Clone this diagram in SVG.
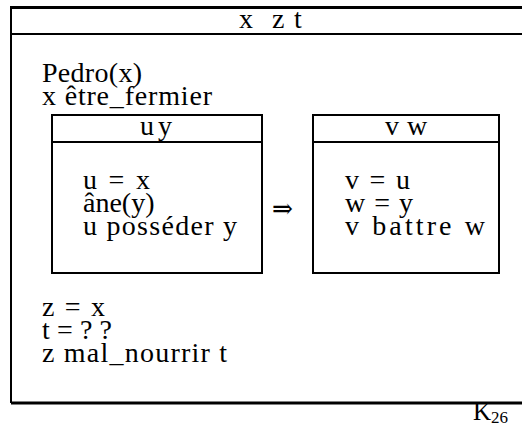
<svg xmlns="http://www.w3.org/2000/svg" width="522" height="427" viewBox="0 0 522 427">
<style>
text{font-family:"Liberation Serif","DejaVu Serif",serif;font-size:28px;fill:#000}
.ln{stroke:#000;fill:none}
.thick{stroke-width:3}
.med{stroke-width:2}
.sub{font-size:17px}
.k{font-size:25px}
</style>
<rect width="522" height="427" fill="#fff"/>
<g id="drs-main">
  <line class="ln thick" x1="11" y1="7.5" x2="522" y2="7.5"/>
  <line class="ln med" x1="11" y1="6" x2="11" y2="403"/>
  <line class="ln med" x1="11" y1="34" x2="522" y2="34"/>
  <line class="ln thick" x1="11" y1="403" x2="522" y2="403"/>
  <text y="28"><tspan x="239">x</tspan><tspan x="272">z</tspan><tspan x="294">t</tspan></text>
  <text x="42" y="82" textLength="100" lengthAdjust="spacing">Pedro(x)</text>
  <text x="42" y="105" textLength="170" lengthAdjust="spacing">x être_fermier</text>
  <text x="42" y="316" textLength="63" lengthAdjust="spacing">z = x</text>
  <text x="42" y="339" textLength="70" lengthAdjust="spacing">t = ? ?</text>
  <text x="42" y="362" textLength="185" lengthAdjust="spacing">z mal_nourrir t</text>
  <text class="k" x="473" y="420">K<tspan class="sub" dy="3">26</tspan></text>
</g>
<g id="box-left">
  <rect class="ln med" x="52" y="115" width="210" height="158"/>
  <line class="ln med" x1="52" y1="142" x2="262" y2="142"/>
  <text y="135"><tspan x="140">u</tspan><tspan x="158">y</tspan></text>
  <text x="83" y="189" textLength="67" lengthAdjust="spacing">u = x</text>
  <text x="83" y="212">âne(y)</text>
  <text x="83" y="235" textLength="154" lengthAdjust="spacing">u posséder y</text>
</g>
<g id="box-right">
  <rect class="ln med" x="313" y="115" width="186" height="158"/>
  <line class="ln med" x1="313" y1="142" x2="499" y2="142"/>
  <text y="135"><tspan x="385">v</tspan><tspan x="407">w</tspan></text>
  <text x="345" y="189" textLength="65" lengthAdjust="spacing">v = u</text>
  <text x="345" y="212" textLength="68" lengthAdjust="spacing">w = y</text>
  <text x="345" y="235" textLength="140" lengthAdjust="spacing">v battre w</text>
</g>
<g id="connectors">
  <text x="272" y="218" font-size="30" textLength="21" lengthAdjust="spacingAndGlyphs">⇒</text>
</g>
</svg>
